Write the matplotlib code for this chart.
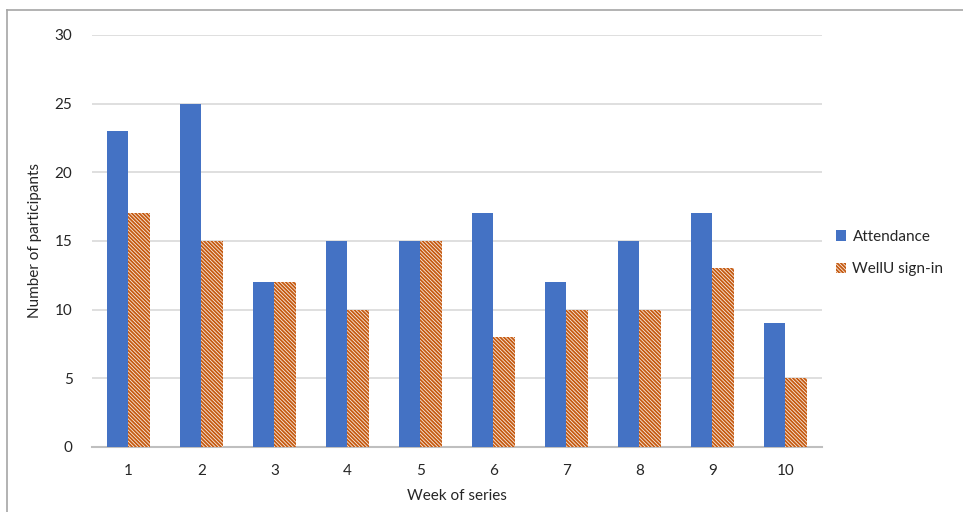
import matplotlib
matplotlib.use("Agg")
import matplotlib.pyplot as plt
from matplotlib.lines import Line2D
import numpy as np

weeks = ["1", "2", "3", "4", "5", "6", "7", "8", "9", "10"]
attendance = [23, 25, 12, 15, 15, 17, 12, 15, 17, 9]
wellu = [17, 15, 12, 10, 15, 8, 10, 10, 13, 5]

BLUE = "#4472C4"
ORANGE = "#C55A11"
plt.rcParams.update({"font.family": ["Lato", "DejaVu Sans"], "hatch.linewidth": 1.3})

fig = plt.figure(figsize=(9.63, 5.12), dpi=100)
ax = fig.add_axes([0.0955, 0.127, 0.758, 0.805])

x = np.arange(len(weeks))
w = 0.29
ax.bar(x - w / 2, attendance, w, color=BLUE, label="Attendance", zorder=3)
ax.bar(x + w / 2, wellu, w, color="#FBEFE6", edgecolor=ORANGE, hatch="\\" * 9,
       linewidth=0, label="WellU sign-in", zorder=3)

ax.set_xlim(-0.5, len(weeks) - 0.5)
ax.set_ylim(0, 30)
ax.set_yticks(range(0, 31, 5))
ax.set_xticks(x)
ax.set_xticklabels(weeks)
ax.grid(axis="y", color="#D9D9D9", lw=1.2, zorder=0)
for s in ["top", "right", "left"]:
    ax.spines[s].set_visible(False)
ax.spines["bottom"].set_color("#BFBFBF")
ax.spines["bottom"].set_linewidth(1.5)
ax.tick_params(length=0, labelsize=11, colors="#262626")
ax.tick_params(axis="x", pad=12)
ax.tick_params(axis="y", pad=14)
ax.set_xlabel("Week of series", fontsize=11, color="#262626", labelpad=8)
ax.set_ylabel("Number of participants", fontsize=11, color="#262626", labelpad=9)

ax.legend(loc="center left", bbox_to_anchor=(1.0, 0.47), frameon=False,
          fontsize=11, handlelength=0.7, handleheight=0.7, handletextpad=0.4,
          labelspacing=1.2, labelcolor="#262626")

# outer frame like the original screenshot
fig.add_artist(Line2D([7 / 963, 7 / 963], [0, 1 - 10 / 512], color="#A6A6A6", lw=1.2))
fig.add_artist(Line2D([7 / 963, 1], [1 - 10 / 512, 1 - 10 / 512], color="#A6A6A6", lw=1.2))

fig.savefig("out.png", dpi=100)
